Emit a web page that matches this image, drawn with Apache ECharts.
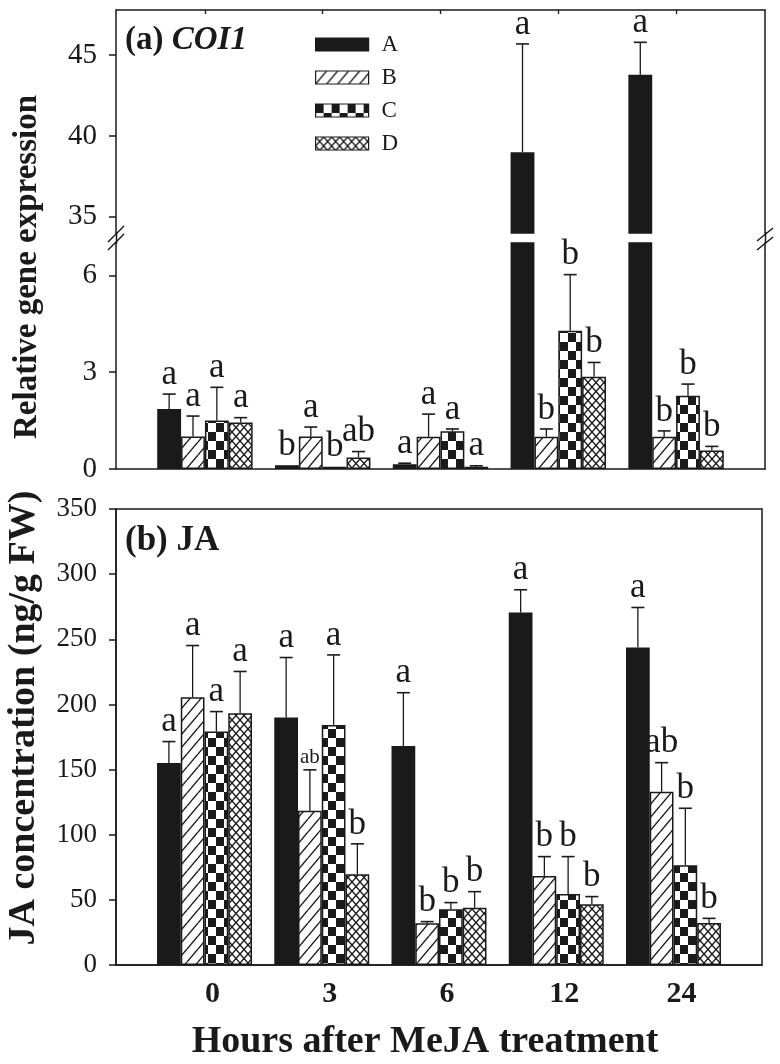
<!DOCTYPE html>
<html><head><meta charset="utf-8">
<script src="https://cdn.jsdelivr.net/npm/echarts@6/dist/echarts.min.js"></script>
<style>html,body{margin:0;padding:0;background:#fff}#c{width:780px;height:1064px}</style>
</head><body><div id="c"></div>
<script>
// ---------- data ----------
const hours = ['0', '3', '6', '12', '24'];
const groups = ['A', 'B', 'C', 'D'];

// (a) COI1 relative gene expression (mean, SE, letters)
const coiA = [1.86, 0.12, 0.15, 39.0, 43.8];
const coiB = [1.01, 1.01, 1.00, 1.00, 1.00];
const coiC = [1.50, 0.07, 1.17, 4.28, 2.27];
const coiD = [1.44, 0.36, 0.07, 2.86, 0.57];
const coiAErr = [0.46, 0, 0.03, 6.7, 2.0];
const coiBErr = [0.63, 0.29, 0.70, 0.24, 0.18];
const coiCErr = [1.03, 0, 0.07, 1.74, 0.36];
const coiDErr = [0.15, 0.18, 0.03, 0.44, 0.13];
const coiALet = ['a', 'b', 'a', 'a', 'a'];
const coiBLet = ['a', 'a', 'a', 'b', 'b'];
const coiCLet = ['a', 'b', 'a', 'b', 'b'];
const coiDLet = ['a', 'ab', 'a', 'b', 'b'];
const coiUpperTicks = [35, 40, 45];
const coiLowerTicks = [0, 3, 6];

// (b) JA concentration (ng/g FW)
const jaA = [155, 190, 168, 270.5, 243.7];
const jaB = [205.6, 118.3, 32, 68.4, 133];
const jaC = [179.2, 184.3, 42.8, 54.5, 76.6];
const jaD = [193.3, 69.7, 44, 46.6, 32.3];
const jaAErr = [16.5, 46, 41, 17.5, 30.7];
const jaBErr = [39.6, 31.5, 1.3, 14.8, 22.3];
const jaCErr = [15.3, 53.7, 5.1, 28.7, 43.7];
const jaDErr = [32, 23.3, 12.3, 5.9, 3.5];
const jaALet = ['a', 'a', 'a', 'a', 'a'];
const jaBLet = ['a', 'ab', 'b', 'b', 'ab'];
const jaCLet = ['a', 'a', 'b', 'b', 'b'];
const jaDLet = ['a', 'b', 'b', 'b', 'b'];

// ---------- styles ----------
const INK = '#1a1a1a';
const SERIF = "'Liberation Serif','Times New Roman',serif";

function tile(w, h, draw) {
  const c = document.createElement('canvas');
  c.width = w; c.height = h;
  const g = c.getContext('2d');
  g.fillStyle = '#fff'; g.fillRect(0, 0, w, h);
  g.strokeStyle = INK; g.fillStyle = INK;
  draw(g, w, h);
  return { image: c, repeat: 'repeat' };
}
const patterns = [
  INK,
  tile(11, 13, (g, w, h) => {
    g.lineWidth = 1.4;
    for (const k of [-1, 0, 1]) { g.beginPath(); g.moveTo(k * w, h); g.lineTo((k + 1) * w, 0); g.stroke(); }
  }),
  tile(16, 18, (g) => { g.fillRect(0, 0, 8, 9); g.fillRect(8, 9, 8, 9); }),
  tile(8, 9, (g, w, h) => {
    g.lineWidth = 1.4;
    for (const dx of [-w, 0, w]) for (const dy of [-h, 0, h]) {
      g.beginPath(); g.moveTo(dx, dy); g.lineTo(dx + w, dy + h); g.stroke();
      g.beginPath(); g.moveTo(dx, dy + h); g.lineTo(dx + w, dy); g.stroke();
    }
  })
];

const CAT_GAP = 0.19;
const XMIN = -0.755, XMAX = 4.755;

function bars(valsList, xi, yi) {
  return valsList.map((vals, s) => ({
    type: 'bar', name: groups[s], xAxisIndex: xi, yAxisIndex: yi,
    data: vals.map((v, i) => [i, v]),
    barGap: '0%', barCategoryGap: (CAT_GAP * 100) + '%', clip: true,
    itemStyle: { color: patterns[s], borderColor: INK, borderWidth: 1.5 },
    emphasis: { disabled: true }, silent: true
  }));
}

function errors(valsList, errList, letList, xi, yi, lo, hi, smallKey) {
  const data = [];
  valsList.forEach((vals, s) => vals.forEach((v, i) => data.push([i, v, errList[s][i], s])));
  return {
    type: 'custom', xAxisIndex: xi, yAxisIndex: yi, data, z: 5, silent: true,
    renderItem(params, api) {
      const x = api.value(0), v = api.value(1), e = api.value(2), s = api.value(3);
      if (v < lo || v > hi) return null;
      const band = api.size([1, 0])[0];
      const w = band * (1 - CAT_GAP) / 4;
      const cx = api.coord([x, lo])[0] + (s - 1.5) * w;
      const yTop = api.coord([x, v])[1];
      const yCap = api.coord([x, v + e])[1];
      const children = [];
      if (e > 0) {
        children.push({ type: 'line', shape: { x1: cx, y1: yTop, x2: cx, y2: yCap }, style: { stroke: INK, lineWidth: 1.3 } });
        children.push({ type: 'line', shape: { x1: cx - 6.5, y1: yCap, x2: cx + 6.5, y2: yCap }, style: { stroke: INK, lineWidth: 1.6 } });
      }
      const small = smallKey && smallKey[0] === s && smallKey[1] === x;
      children.push({ type: 'text', x: cx, y: yCap - 2,
        style: { text: letList[s][x], fontFamily: SERIF, fontSize: small ? 21 : 35, fill: INK, align: 'center', verticalAlign: 'bottom' } });
      return { type: 'group', children };
    }
  };
}

const axisLine = { show: true, onZero: false, lineStyle: { color: INK, width: 1.5 } };
const noSplit = { show: false };
const tickOut = (vals) => ({ show: true, inside: false, length: 7, lineStyle: { color: INK, width: 1.5 }, customValues: vals });
const yLabel = (size, vals) => ({ show: true, color: INK, fontFamily: SERIF, fontSize: size, margin: 19, customValues: vals });

const option = {
  animation: false,
  backgroundColor: '#fff',
  grid: [
    { left: 116, right: 15, top: 10, height: 223, outerBoundsMode: 'none' },
    { left: 116, right: 15, top: 243, height: 226, outerBoundsMode: 'none' },
    { left: 116, right: 18, top: 509, height: 456, outerBoundsMode: 'none', show: true, borderColor: INK, borderWidth: 1.5, backgroundColor: 'transparent' }
  ],
  xAxis: [
    { gridIndex: 0, type: 'value', min: XMIN, max: XMAX, position: 'top', axisLine,
      axisTick: { show: true, inside: true, length: 4, lineStyle: { color: INK, width: 1.3 }, customValues: [0, 1, 2, 3, 4] },
      axisLabel: { show: false }, splitLine: noSplit },
    { gridIndex: 1, type: 'value', min: XMIN, max: XMAX, position: 'bottom', axisLine,
      axisTick: { show: false }, axisLabel: { show: false }, splitLine: noSplit },
    { gridIndex: 2, type: 'value', min: XMIN, max: XMAX, position: 'bottom', axisLine,
      axisTick: { show: false }, splitLine: noSplit,
      axisLabel: { show: true, customValues: [0, 1, 2, 3, 4], formatter: (v) => hours[Math.round(v)],
        color: INK, fontFamily: SERIF, fontWeight: 'bold', fontSize: 30, margin: 14, padding: [0, 0, 0, 16] } }
  ],
  yAxis: [
    { gridIndex: 0, type: 'value', min: 34, max: 47.8, position: 'left', axisLine, axisTick: tickOut(coiUpperTicks),
      axisLabel: yLabel(29, coiUpperTicks), splitLine: noSplit },
    { gridIndex: 0, type: 'value', min: 34, max: 47.8, position: 'right', axisLine,
      axisTick: { show: false }, axisLabel: { show: false }, splitLine: noSplit },
    { gridIndex: 1, type: 'value', min: 0, max: 7, position: 'left', axisLine, axisTick: tickOut(coiLowerTicks),
      axisLabel: yLabel(29, coiLowerTicks), splitLine: noSplit },
    { gridIndex: 1, type: 'value', min: 0, max: 7, position: 'right', axisLine,
      axisTick: { show: false }, axisLabel: { show: false }, splitLine: noSplit },
    { gridIndex: 2, type: 'value', min: 0, max: 350, interval: 50, position: 'left', axisLine,
      axisTick: { show: true, inside: false, length: 7, lineStyle: { color: INK, width: 1.5 } },
      axisLabel: { show: true, color: INK, fontFamily: SERIF, fontSize: 27, margin: 19 }, splitLine: noSplit }
  ],
  legend: {
    left: 310, top: 28, orient: 'vertical', icon: 'rect', itemWidth: 53, itemHeight: 13, itemGap: 10,
    selectedMode: false, data: groups,
    textStyle: { fontFamily: SERIF, fontSize: 23, color: INK, lineHeight: 21, padding: [0, 0, 0, 8] },
    itemStyle: { borderColor: INK, borderWidth: 1.2 }
  },
  series: [
    ...bars([coiA, coiB, coiC, coiD], 0, 0),
    ...bars([coiA, coiB, coiC, coiD], 1, 2),
    ...bars([jaA, jaB, jaC, jaD], 2, 4),
    errors([coiA, coiB, coiC, coiD], [coiAErr, coiBErr, coiCErr, coiDErr], [coiALet, coiBLet, coiCLet, coiDLet], 0, 0, 34, 47.8),
    errors([coiA, coiB, coiC, coiD], [coiAErr, coiBErr, coiCErr, coiDErr], [coiALet, coiBLet, coiCLet, coiDLet], 1, 2, 0, 7),
    errors([jaA, jaB, jaC, jaD], [jaAErr, jaBErr, jaCErr, jaDErr], [jaALet, jaBLet, jaCLet, jaDLet], 2, 4, 0, 350, [1, 1])
  ],
  graphic: [
    // continuation of frame across the axis break
    { type: 'line', z: 50, shape: { x1: 116.5, y1: 232, x2: 116.5, y2: 244 }, style: { stroke: INK, lineWidth: 1.5 } },
    { type: 'line', z: 50, shape: { x1: 765.5, y1: 232, x2: 765.5, y2: 244 }, style: { stroke: INK, lineWidth: 1.5 } },
    // break marks
    { type: 'line', z: 50, shape: { x1: 108, y1: 242, x2: 124, y2: 226 }, style: { stroke: INK, lineWidth: 1.5 } },
    { type: 'line', z: 50, shape: { x1: 108, y1: 250, x2: 124, y2: 234 }, style: { stroke: INK, lineWidth: 1.5 } },
    { type: 'line', z: 50, shape: { x1: 757, y1: 241, x2: 773, y2: 228 }, style: { stroke: INK, lineWidth: 1.5 } },
    { type: 'line', z: 50, shape: { x1: 757, y1: 250, x2: 773, y2: 237 }, style: { stroke: INK, lineWidth: 1.5 } },
    // panel titles
    { type: 'text', z: 50, x: 125, y: 40,
      style: { text: '{n|(a) }{i|COI1}', align: 'left', verticalAlign: 'middle',
        rich: { n: { fontFamily: SERIF, fontWeight: 'bold', fontSize: 33, fill: INK, color: INK },
                i: { fontFamily: SERIF, fontWeight: 'bold', fontStyle: 'italic', fontSize: 33, fill: INK, color: INK } } } },
    { type: 'text', z: 50, x: 125, y: 541,
      style: { text: '(b) JA', fontFamily: SERIF, fontWeight: 'bold', fontSize: 35, fill: INK, align: 'left', verticalAlign: 'middle' } },
    // axis titles
    { type: 'text', z: 50, x: 27, y: 267, rotation: Math.PI / 2,
      style: { text: 'Relative gene expression', fontFamily: SERIF, fontWeight: 'bold', fontSize: 33, fill: INK, align: 'center', verticalAlign: 'middle' } },
    { type: 'text', z: 50, x: 24, y: 718, rotation: Math.PI / 2,
      style: { text: 'JA concentration (ng/g FW)', fontFamily: SERIF, fontWeight: 'bold', fontSize: 38, fill: INK, align: 'center', verticalAlign: 'middle' } },
    { type: 'text', z: 50, x: 425, y: 1042,
      style: { text: 'Hours after MeJA treatment', fontFamily: SERIF, fontWeight: 'bold', fontSize: 38, fill: INK, align: 'center', verticalAlign: 'middle' } }
  ]
};

const chart = echarts.init(document.getElementById('c'), null, { renderer: 'canvas' });
chart.setOption(option);
</script>
</body></html>
